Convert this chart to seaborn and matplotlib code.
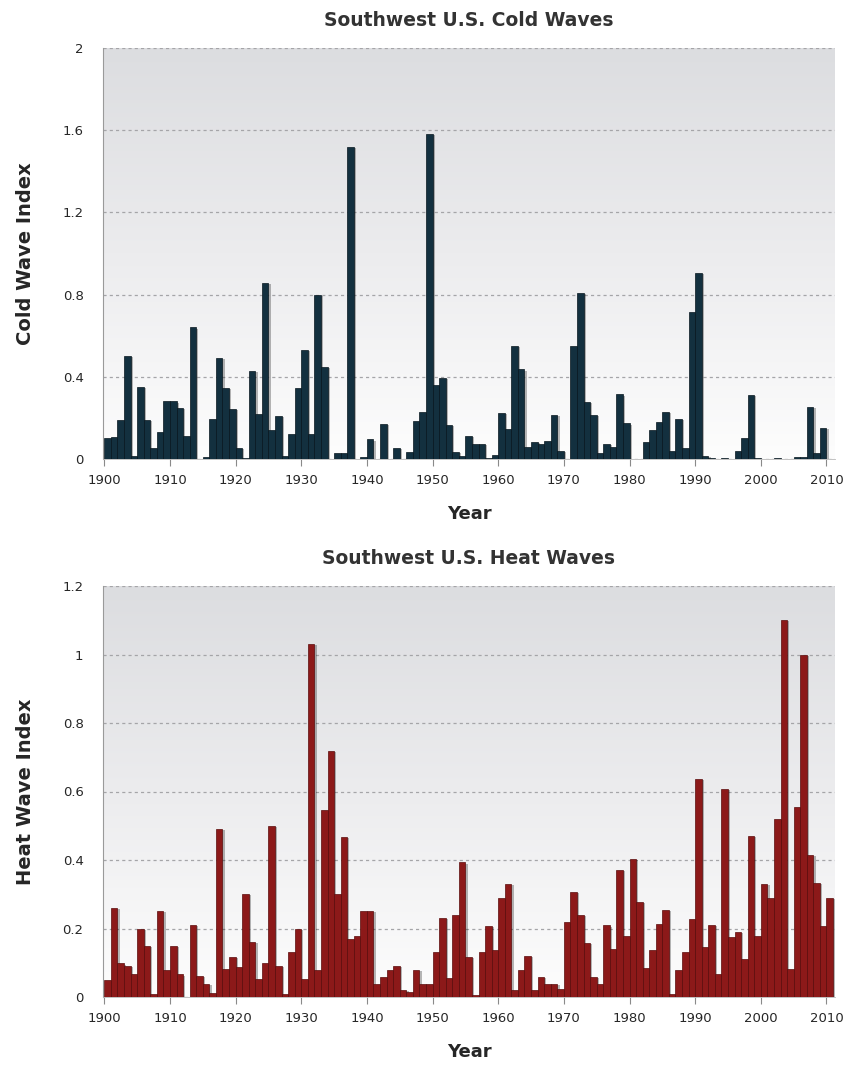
import numpy as np
import pandas as pd
import matplotlib
matplotlib.use("Agg")
import matplotlib.pyplot as plt
import matplotlib.patheffects as pe
from matplotlib.colors import LinearSegmentedColormap
import seaborn as sns

# Annual index values, one per year 1900-2010
years = list(range(1900, 2011))

cold_wave_index = [
    0.10, 0.105, 0.19, 0.50, 0.013, 0.35, 0.19, 0.055, 0.13, 0.28,      # 1900s
    0.28, 0.25, 0.11, 0.64, 0.0, 0.01, 0.195, 0.49, 0.345, 0.245,        # 1910s
    0.055, 0.005, 0.43, 0.22, 0.857, 0.14, 0.21, 0.013, 0.12, 0.345,     # 1920s
    0.53, 0.12, 0.80, 0.45, 0.0, 0.03, 0.03, 1.52, 0.0, 0.01,            # 1930s
    0.095, 0.0, 0.17, 0.0, 0.054, 0.0, 0.033, 0.186, 0.227, 1.58,        # 1940s
    0.359, 0.395, 0.166, 0.035, 0.013, 0.112, 0.074, 0.074, 0.005, 0.018,  # 1950s
    0.222, 0.145, 0.548, 0.436, 0.059, 0.082, 0.071, 0.09, 0.216, 0.041,   # 1960s
    0.0, 0.551, 0.81, 0.277, 0.216, 0.03, 0.075, 0.06, 0.314, 0.173,     # 1970s
    0.0, 0.0, 0.084, 0.14, 0.178, 0.231, 0.04, 0.193, 0.054, 0.713,      # 1980s
    0.907, 0.013, 0.005, 0.0, 0.005, 0.0, 0.041, 0.104, 0.313, 0.005,    # 1990s
    0.0, 0.0, 0.005, 0.0, 0.0, 0.012, 0.012, 0.252, 0.03, 0.153,         # 2000s
    0.0,                                                                 # 2010
]

heat_wave_index = [
    0.05, 0.26, 0.098, 0.09, 0.066, 0.20, 0.149, 0.008, 0.25, 0.079,     # 1900s
    0.149, 0.066, 0.0, 0.21, 0.061, 0.039, 0.012, 0.49, 0.081, 0.118,    # 1910s
    0.089, 0.30, 0.162, 0.052, 0.10, 0.50, 0.09, 0.008, 0.13, 0.20,      # 1920s
    0.052, 1.031, 0.079, 0.547, 0.719, 0.30, 0.467, 0.168, 0.178, 0.251, # 1930s
    0.251, 0.037, 0.059, 0.079, 0.09, 0.02, 0.016, 0.079, 0.039, 0.039,  # 1940s
    0.13, 0.232, 0.056, 0.24, 0.393, 0.117, 0.005, 0.13, 0.207, 0.137,   # 1950s
    0.29, 0.331, 0.02, 0.079, 0.12, 0.02, 0.059, 0.037, 0.039, 0.022,    # 1960s
    0.22, 0.308, 0.24, 0.159, 0.059, 0.037, 0.209, 0.141, 0.37, 0.178,   # 1970s
    0.402, 0.278, 0.086, 0.137, 0.214, 0.253, 0.008, 0.078, 0.13, 0.229, # 1980s
    0.637, 0.147, 0.21, 0.068, 0.608, 0.176, 0.19, 0.11, 0.469, 0.178,  # 1990s
    0.331, 0.29, 0.519, 1.10, 0.081, 0.556, 1.00, 0.414, 0.334, 0.207,  # 2000s
    0.29,                                                                # 2010
]

decade_ticks = list(range(1900, 2011, 10))
cold_yticks = [0, 0.4, 0.8, 1.2, 1.6, 2.0]
cold_ytick_labels = ["0", "0.4", "0.8", "1.2", "1.6", "2"]
heat_yticks = [0, 0.2, 0.4, 0.6, 0.8, 1.0, 1.2]
heat_ytick_labels = ["0", "0.2", "0.4", "0.6", "0.8", "1", "1.2"]

sns.set_style("white")
plt.rcParams["font.family"] = ["DejaVu Sans"]

W, H = 845, 1067
fig = plt.figure(figsize=(W / 100, H / 100), dpi=100)
fig.patch.set_facecolor("white")

X_MIN, X_MAX = 1899.8, 2011.3
TEXT = "#262626"


def draw_panel(ax, values, fill, edge, ymax, yticks, ylabels, title, ylabel):
    # each year's bar spans the calendar year [year, year + 1)
    df = pd.DataFrame({"year": years, "value": values})
    df["center"] = df["year"] + 0.5

    # soft vertical gradient behind the plot area
    grad = np.linspace(0, 1, 256).reshape(-1, 1)
    bg = LinearSegmentedColormap.from_list("bg", ["#fdfdfd", "#ececee", "#dcdde0"])
    ax.imshow(grad, extent=[X_MIN, X_MAX, 0, ymax], origin="lower",
              aspect="auto", cmap=bg, zorder=0, interpolation="bicubic")

    sns.barplot(data=df, x="center", y="value", native_scale=True, width=1.0,
                color=fill, saturation=1, edgecolor=edge, linewidth=0.5,
                errorbar=None, ax=ax, zorder=2)
    for patch in ax.patches:
        if patch.get_height() == 0:
            patch.set_linewidth(0)
        patch.set_path_effects([
            pe.SimplePatchShadow(offset=(1.6, -0.8), shadow_rgbFace="#000000", alpha=0.28),
            pe.Normal(),
        ])

    ax.set_xlim(X_MIN, X_MAX)
    ax.set_ylim(0, ymax)
    ax.set_axisbelow(True)
    ax.set_yticks(yticks)
    ax.set_yticklabels(ylabels)
    ax.set_xticks(decade_ticks)
    ax.set_xticklabels([str(t) for t in decade_ticks])
    ax.yaxis.grid(True, linestyle=(0, (2.5, 2.5)), color="#a5a5a8", linewidth=0.9)
    ax.xaxis.grid(False)

    ax.tick_params(axis="x", direction="out", length=5, width=0.8, color="#8a8a8a",
                   pad=6, labelsize=9.5, labelcolor=TEXT, bottom=True)
    ax.tick_params(axis="y", length=0, pad=14, labelsize=9.5, labelcolor=TEXT)

    for side in ("top", "right"):
        ax.spines[side].set_visible(False)
    ax.spines["left"].set_color("#9a9a9a")
    ax.spines["left"].set_linewidth(0.8)
    ax.spines["bottom"].set_color("#b8b8b8")
    ax.spines["bottom"].set_linewidth(0.6)

    ax.set_title(title, fontsize=13.5, fontweight="bold", color="#333333", pad=16)
    ax.set_xlabel("Year", fontsize=13, fontweight="bold", color=TEXT, labelpad=13)
    ax.set_ylabel(ylabel, fontsize=14, fontweight="bold", color=TEXT, labelpad=20)


ax_cold = fig.add_axes([103 / W, 1 - 459 / H, 732 / W, 411 / H])
ax_heat = fig.add_axes([103 / W, 1 - 997 / H, 732 / W, 411 / H])

draw_panel(ax_cold, cold_wave_index, "#13303f", "#07161e", 2.0,
           cold_yticks, cold_ytick_labels, "Southwest U.S. Cold Waves", "Cold Wave Index")
draw_panel(ax_heat, heat_wave_index, "#8c1919", "#5a0b0b", 1.2,
           heat_yticks, heat_ytick_labels, "Southwest U.S. Heat Waves", "Heat Wave Index")

fig.savefig("out.png", dpi=100)
